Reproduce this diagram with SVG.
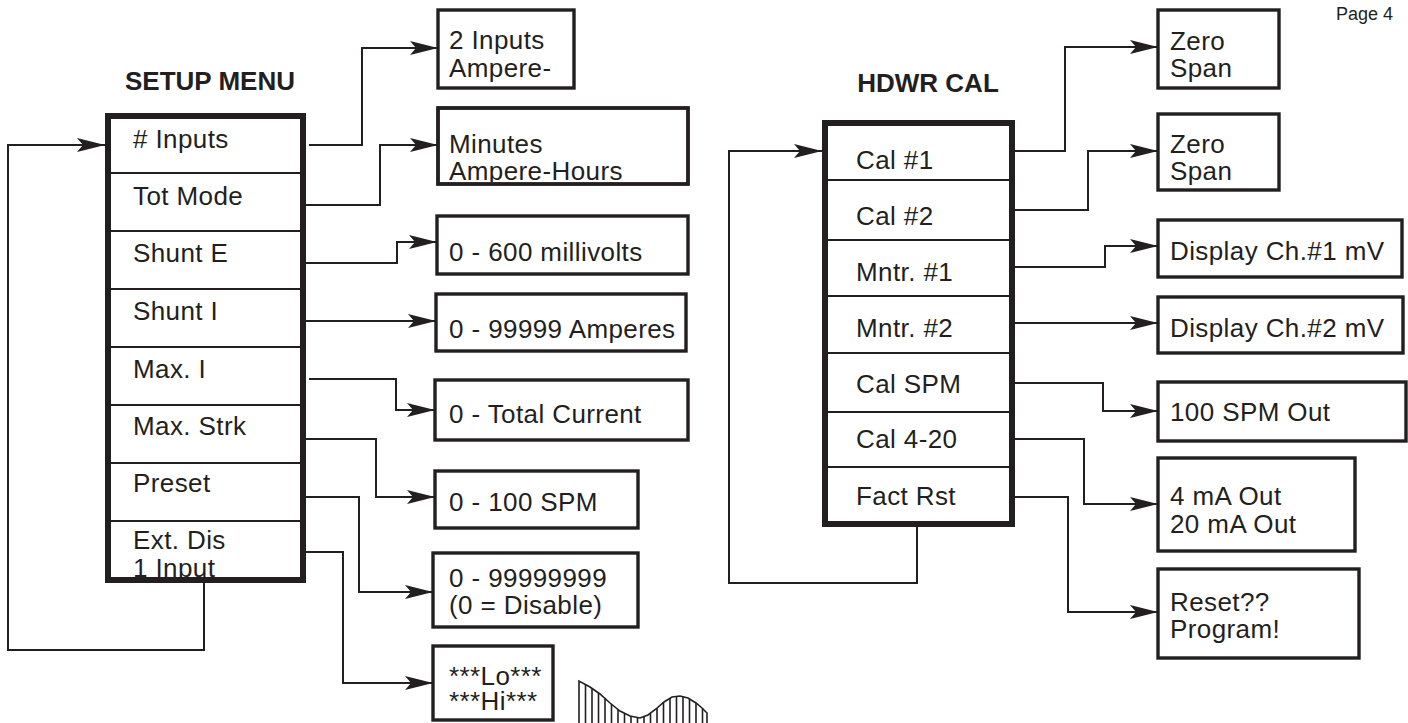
<svg xmlns="http://www.w3.org/2000/svg" width="1408" height="723" viewBox="0 0 1408 723">
<style>
  text { font-family: "Liberation Sans", Arial, Helvetica, sans-serif; fill: #231f20; }
  .t { font-size: 26px; letter-spacing: 0.4px; }
  .title { font-size: 26px; font-weight: bold; text-anchor: middle; }
  .page { font-size: 18px; }
  .div { stroke: #231f20; stroke-width: 2; fill: none; }
  .box { fill: #fff; stroke: #231f20; stroke-width: 3.4; }
  .conn { fill: none; stroke: #231f20; stroke-width: 2; }
  .arrow { marker-end: url(#ah); }
  .hatch { fill: none; stroke: #231f20; stroke-width: 1.6; }
</style>
<defs>
  <marker id="ah" markerUnits="userSpaceOnUse" markerWidth="28" markerHeight="14" viewBox="0 0 28 14" refX="28" refY="7" orient="auto">
    <path d="M0,0 L28,7 L0,14 L6,7 z" fill="#231f20"/>
  </marker>
  <clipPath id="clipMin"><rect x="438" y="107" width="250" height="75"/></clipPath>
</defs>

<g id="page-number"><text class="page" x="1336" y="20">Page 4</text></g>

<g id="connectors">
  <polyline class="conn arrow" points="309,145 362,145 362,48 438,48"/>
  <polyline class="conn arrow" points="306,205 380,205 380,145 438,145"/>
  <polyline class="conn arrow" points="306,263 397,263 397,242 437,242"/>
  <polyline class="conn arrow" points="306,321 436,321"/>
  <polyline class="conn arrow" points="309,379 396,379 396,410 435,410"/>
  <polyline class="conn arrow" points="306,439 376,439 376,497 435,497"/>
  <polyline class="conn arrow" points="306,497 359,497 359,592 433,592"/>
  <polyline class="conn arrow" points="306,552 343,552 343,683 433,683"/>
  <polyline class="conn arrow" points="204,583 204,650 8,650 8,145 105,145"/>
  <polyline class="conn arrow" points="1015,151 1065,151 1065,47 1158,47"/>
  <polyline class="conn arrow" points="1015,210 1088,210 1088,151 1158,151"/>
  <polyline class="conn arrow" points="1015,267 1105,267 1105,246 1158,246"/>
  <polyline class="conn arrow" points="1015,323 1158,323"/>
  <polyline class="conn arrow" points="1015,383 1103,383 1103,411 1158,411"/>
  <polyline class="conn arrow" points="1015,439 1084,439 1084,504 1158,504"/>
  <polyline class="conn arrow" points="1015,497 1068,497 1068,612 1158,612"/>
  <polyline class="conn arrow" points="917,527 917,583 729,583 729,151 822,151"/>
</g>

<g id="setup-menu">
  <text class="title" x="210" y="90">SETUP MENU</text>
  <rect x="108" y="116" width="195" height="464" fill="#fff"/>
  <line class="div" x1="111" y1="173" x2="303" y2="173"/>
  <line class="div" x1="111" y1="231" x2="303" y2="231"/>
  <line class="div" x1="111" y1="289" x2="303" y2="289"/>
  <line class="div" x1="111" y1="347" x2="303" y2="347"/>
  <line class="div" x1="111" y1="405" x2="303" y2="405"/>
  <line class="div" x1="111" y1="463" x2="303" y2="463"/>
  <line class="div" x1="111" y1="521" x2="303" y2="521"/>
  <text class="t" x="133" y="148"># Inputs</text>
  <text class="t" x="133" y="205">Tot Mode</text>
  <text class="t" x="133" y="262">Shunt E</text>
  <text class="t" x="133" y="320">Shunt I</text>
  <text class="t" x="133" y="378">Max. I</text>
  <text class="t" x="133" y="435">Max. Strk</text>
  <text class="t" x="133" y="492">Preset</text>
  <text class="t" x="133" y="549">Ext. Dis</text>
  <text class="t" x="133" y="577">1 Input</text>
  <rect x="108" y="116" width="195" height="464" fill="none" stroke="#231f20" stroke-width="6"/>
</g>

<g id="n-inputs">
  <rect class="box" x="438" y="10" width="136" height="78"/>
  <text class="t" x="449" y="49">2 Inputs</text>
  <text class="t" x="449" y="77">Ampere-</text>
</g>
<g id="n-totmode">
  <rect class="box" x="438" y="108" width="250" height="76"/>
  <text class="t" x="449" y="153">Minutes</text>
  <text class="t" x="449" y="180" clip-path="url(#clipMin)">Ampere-Hours</text>
  <rect x="438" y="108" width="250" height="76" fill="none" stroke="#231f20" stroke-width="3.4"/>
</g>
<g id="n-shunte">
  <rect class="box" x="437" y="216" width="251" height="58"/>
  <text class="t" x="449" y="261">0 - 600 millivolts</text>
</g>
<g id="n-shunti">
  <rect class="box" x="436" y="294" width="250" height="57"/>
  <text class="t" x="449" y="338">0 - 99999 Amperes</text>
</g>
<g id="n-maxi">
  <rect class="box" x="435" y="380" width="253" height="60"/>
  <text class="t" x="449" y="423">0 - Total Current</text>
</g>
<g id="n-maxstrk">
  <rect class="box" x="435" y="471" width="203" height="57"/>
  <text class="t" x="449" y="511">0 - 100 SPM</text>
</g>
<g id="n-preset">
  <rect class="box" x="433" y="553" width="205" height="74"/>
  <text class="t" x="449" y="587">0 - 99999999</text>
  <text class="t" x="449" y="614">(0 = Disable)</text>
</g>
<g id="n-extdis">
  <rect class="box" x="433" y="646" width="120" height="74"/>
  <text class="t" x="449" y="685">***Lo***</text>
  <text class="t" x="449" y="710">***Hi***</text>
</g>

<g id="hatched-wave" class="hatch">
  <polyline points="579,723 579,681 590,687 600,694 610,703 620,711 630,716 640,718 648,715 656,709 664,702 672,697 680,696 688,698 696,703 702,708 707,713 707,723"/>
  <line x1="585.5" y1="684.5" x2="585.5" y2="723"/>
  <line x1="592" y1="688.4" x2="592" y2="723"/>
  <line x1="598.5" y1="693" x2="598.5" y2="723"/>
  <line x1="605" y1="698.5" x2="605" y2="723"/>
  <line x1="611.5" y1="704.2" x2="611.5" y2="723"/>
  <line x1="618" y1="709.4" x2="618" y2="723"/>
  <line x1="624.5" y1="713.3" x2="624.5" y2="723"/>
  <line x1="631" y1="716.2" x2="631" y2="723"/>
  <line x1="637.5" y1="717.5" x2="637.5" y2="723"/>
  <line x1="644" y1="716.5" x2="644" y2="723"/>
  <line x1="650.5" y1="713.6" x2="650.5" y2="723"/>
  <line x1="657" y1="708.1" x2="657" y2="723"/>
  <line x1="663.5" y1="702.4" x2="663.5" y2="723"/>
  <line x1="670" y1="698.2" x2="670" y2="723"/>
  <line x1="676.5" y1="696.4" x2="676.5" y2="723"/>
  <line x1="683" y1="696.7" x2="683" y2="723"/>
  <line x1="689.5" y1="698.9" x2="689.5" y2="723"/>
  <line x1="696" y1="703" x2="696" y2="723"/>
  <line x1="702.5" y1="708.5" x2="702.5" y2="723"/>
</g>

<g id="hdwr-cal">
  <text class="title" x="928" y="92">HDWR CAL</text>
  <rect x="825" y="123" width="187" height="401" fill="#fff"/>
  <line class="div" x1="828" y1="180" x2="1012" y2="180"/>
  <line class="div" x1="828" y1="240" x2="1012" y2="240"/>
  <line class="div" x1="828" y1="296" x2="1012" y2="296"/>
  <line class="div" x1="828" y1="353" x2="1012" y2="353"/>
  <line class="div" x1="828" y1="412" x2="1012" y2="412"/>
  <line class="div" x1="828" y1="467" x2="1012" y2="467"/>
  <text class="t" x="856" y="169">Cal #1</text>
  <text class="t" x="856" y="225">Cal #2</text>
  <text class="t" x="856" y="281">Mntr. #1</text>
  <text class="t" x="856" y="337">Mntr. #2</text>
  <text class="t" x="856" y="393">Cal SPM</text>
  <text class="t" x="856" y="448">Cal 4-20</text>
  <text class="t" x="856" y="505">Fact Rst</text>
  <rect x="825" y="123" width="187" height="401" fill="none" stroke="#231f20" stroke-width="6"/>
</g>

<g id="n-cal1">
  <rect class="box" x="1158" y="10" width="121" height="78"/>
  <text class="t" x="1170" y="50">Zero</text>
  <text class="t" x="1170" y="77">Span</text>
</g>
<g id="n-cal2">
  <rect class="box" x="1158" y="114" width="121" height="76"/>
  <text class="t" x="1170" y="153">Zero</text>
  <text class="t" x="1170" y="180">Span</text>
</g>
<g id="n-mntr1">
  <rect class="box" x="1158" y="220" width="244" height="57"/>
  <text class="t" x="1170" y="260">Display Ch.#1 mV</text>
</g>
<g id="n-mntr2">
  <rect class="box" x="1158" y="297" width="245" height="56"/>
  <text class="t" x="1170" y="337">Display Ch.#2 mV</text>
</g>
<g id="n-calspm">
  <rect class="box" x="1158" y="382" width="248" height="59"/>
  <text class="t" x="1170" y="421">100 SPM Out</text>
</g>
<g id="n-cal420">
  <rect class="box" x="1158" y="458" width="197" height="93"/>
  <text class="t" x="1170" y="505">4 mA Out</text>
  <text class="t" x="1170" y="533">20 mA Out</text>
</g>
<g id="n-factrst">
  <rect class="box" x="1158" y="569" width="201" height="89"/>
  <text class="t" x="1170" y="611">Reset??</text>
  <text class="t" x="1170" y="638">Program!</text>
</g>
</svg>
